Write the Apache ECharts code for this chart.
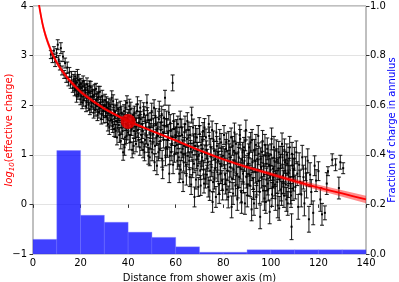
<!DOCTYPE html>
<html>
<head>
<meta charset="utf-8">
<script src="https://cdn.jsdelivr.net/npm/echarts@6/dist/echarts.min.js"></script>
<style>
html,body{margin:0;padding:0;background:#fff;}
#chart{width:399px;height:282px;}
</style>
</head>
<body>
<div id="chart"></div>
<script>
// Histogram: fraction of charge in annulus (right axis)
const binEdges = [0,10,20,30,40,50,60,70,80,90,100,110,120,130,140];
const binFractions = [0.059,0.417,0.156,0.128,0.088,0.067,0.029,0.007,0.007,0.017,0.017,0.017,0.017,0.017];

// Fitted lateral distribution curve (left axis) and its band half-width
const curveX = [1.5,2,2.5,3,4,5,6,7,8,10,12,15,20,25,30,35,40,45,50,60,70,80,90,100,110,120,130,140];
const curveY = [4.48,4.23,4.04,3.89,3.64,3.45,3.30,3.17,3.05,2.86,2.71,2.52,2.27,2.09,1.93,1.80,1.68,1.58,1.48,1.29,1.09,0.91,0.75,0.61,0.47,0.34,0.22,0.10];
const curveBand = [0.10,0.10,0.09,0.09,0.08,0.075,0.07,0.065,0.06,0.055,0.05,0.045,0.04,0.035,0.032,0.03,0.03,0.028,0.026,0.025,0.025,0.028,0.032,0.038,0.045,0.055,0.065,0.075];

// Highlighted point
const markX = [40];
const markY = [1.67];

// Measurements [distance, log10 charge, error]
const pointsA = [[7.5,3.02,0.08],[8.2,2.95,0.09],[8.8,3.10,0.08],[9.3,2.88,0.10],[9.9,3.05,0.09],[10.4,3.22,0.10],[10.8,2.92,0.08],[11.3,2.80,0.09],[11.7,3.15,0.11],[12.2,2.70,0.09],[12.6,2.98,0.10],[13.1,2.62,0.08],[13.5,2.85,0.10],[14.0,2.55,0.09],[14.4,2.76,0.11],[14.9,2.48,0.09],[15.3,2.66,0.10],[15.8,2.42,0.08],[16.2,2.58,0.10],[16.7,2.35,0.09]];
const pointsB = [[17.1,2.52,0.10],[17.5,2.30,0.11],[17.9,2.44,0.10],[18.3,2.18,0.12],[18.7,2.61,0.11],[19.1,2.27,0.10],[19.5,2.40,0.12],[19.9,2.12,0.11],[20.3,2.35,0.10],[20.7,2.05,0.12],[21.1,2.48,0.11],[21.5,2.20,0.10],[21.9,2.31,0.12],[22.3,1.98,0.11],[22.7,2.42,0.13],[23.1,2.15,0.10],[23.5,2.26,0.12],[23.9,1.92,0.11],[24.3,2.36,0.12],[24.7,2.08,0.10],[25.1,2.19,0.13],[25.5,1.85,0.11],[25.9,2.30,0.12],[26.3,2.02,0.10],[26.7,2.12,0.12],[27.1,1.80,0.11],[27.5,2.25,0.13],[27.9,1.95,0.11],[28.3,2.05,0.12],[28.7,1.72,0.10],[29.1,2.18,0.12],[29.5,1.90,0.11],[29.9,1.99,0.12]];
const pointsB2 = [[17.3,2.40,0.11],[17.7,2.58,0.10],[18.1,2.33,0.12],[18.5,2.46,0.11],[18.9,2.22,0.10],[19.3,2.50,0.12],[19.7,2.31,0.11],[20.1,2.44,0.10],[20.5,2.18,0.12],[20.9,2.38,0.11],[21.3,2.10,0.12],[21.7,2.40,0.10],[22.1,2.25,0.11],[22.5,2.06,0.12],[22.9,2.32,0.11],[23.3,2.01,0.12],[23.7,2.39,0.10],[24.1,2.17,0.11],[24.5,1.97,0.12],[24.9,2.28,0.11],[25.3,2.04,0.12],[25.7,2.21,0.10],[26.1,1.90,0.12],[26.5,2.33,0.11],[26.9,1.98,0.12],[27.3,2.16,0.11],[27.7,1.86,0.12],[28.1,2.27,0.11],[28.5,2.00,0.12],[28.9,1.83,0.12],[29.3,2.08,0.11],[29.7,1.76,0.12]];
const pointsC = [[30.3,2.10,0.12],[30.7,1.78,0.13],[31.1,1.95,0.12],[31.5,1.62,0.14],[31.9,2.02,0.12],[32.3,1.85,0.13],[32.7,1.70,0.12],[33.1,2.15,0.14],[33.5,1.58,0.13],[33.9,1.90,0.12],[34.3,1.75,0.14],[34.7,1.48,0.13],[35.1,2.00,0.12],[35.5,1.66,0.14],[35.9,1.82,0.13],[36.3,1.40,0.15],[36.7,1.95,0.13],[37.1,1.55,0.14],[37.5,1.72,0.12],[37.9,1.05,0.16],[38.3,1.88,0.13],[38.7,1.35,0.15],[39.1,1.62,0.13],[39.5,2.05,0.14],[39.9,1.45,0.15],[40.3,1.78,0.13],[40.7,1.25,0.15],[41.1,1.92,0.14],[41.5,1.52,0.13],[41.9,1.68,0.14],[42.3,1.18,0.16],[42.7,1.85,0.13],[43.1,1.42,0.15],[43.5,1.60,0.14],[43.9,2.02,0.15],[44.3,1.30,0.14],[44.7,1.75,0.13]];
const pointsC2 = [[30.5,1.88,0.13],[30.9,2.05,0.12],[31.3,1.72,0.14],[31.7,1.92,0.13],[32.1,1.55,0.14],[32.5,1.98,0.13],[32.9,1.80,0.12],[33.3,1.65,0.14],[33.7,2.08,0.13],[34.1,1.52,0.15],[34.5,1.86,0.13],[34.9,1.68,0.14],[35.3,1.35,0.15],[35.7,1.92,0.13],[36.1,1.60,0.14],[36.5,1.78,0.13],[36.9,1.28,0.16],[37.3,1.85,0.13],[37.7,1.48,0.15],[38.1,1.68,0.14],[38.5,1.15,0.16],[38.9,1.95,0.14],[39.3,1.38,0.15],[39.7,1.72,0.14],[40.1,1.55,0.15],[40.5,1.98,0.14],[40.9,1.40,0.15],[41.3,1.62,0.14],[41.7,1.10,0.16],[42.1,1.80,0.14],[42.5,1.48,0.15],[42.9,1.70,0.14],[43.3,1.22,0.16],[43.7,1.88,0.14],[44.1,1.50,0.15],[44.5,1.65,0.14],[44.9,1.15,0.16]];
const pointsD = [[45.1,1.95,0.14],[45.5,1.40,0.15],[45.9,1.62,0.14],[46.3,1.10,0.16],[46.7,1.82,0.15],[47.1,1.30,0.14],[47.5,1.55,0.15],[47.9,2.05,0.16],[48.3,1.20,0.15],[48.7,1.70,0.14],[49.1,0.95,0.17],[49.5,1.48,0.15],[49.9,1.88,0.16],[50.3,1.25,0.15],[50.7,1.60,0.14],[51.1,0.85,0.17],[51.5,1.78,0.15],[51.9,1.35,0.16],[52.3,1.52,0.14],[52.7,1.05,0.17],[53.1,1.92,0.16],[53.5,1.28,0.15],[53.9,1.65,0.14],[54.3,0.92,0.17],[54.7,1.45,0.15],[55.1,1.75,0.16],[55.5,2.15,0.15],[55.9,1.15,0.16],[56.3,1.58,0.15],[56.7,1.32,0.16],[57.1,1.85,0.15],[57.5,0.98,0.17],[57.9,1.48,0.15],[58.3,1.22,0.16],[58.7,2.45,0.16],[59.1,1.68,0.15],[59.5,1.02,0.17],[59.9,1.40,0.16]];
const pointsD2 = [[45.3,1.72,0.15],[45.7,1.25,0.16],[46.1,1.48,0.15],[46.5,1.90,0.15],[46.9,1.05,0.17],[47.3,1.65,0.15],[47.7,1.38,0.16],[48.1,1.80,0.15],[48.5,0.98,0.17],[48.9,1.55,0.15],[49.3,1.28,0.16],[49.7,1.70,0.15],[50.1,1.05,0.17],[50.5,1.42,0.16],[50.9,1.95,0.16],[51.3,1.18,0.16],[51.7,1.60,0.15],[52.1,0.78,0.18],[52.5,1.38,0.16],[52.9,1.72,0.16],[53.3,1.10,0.17],[53.7,1.50,0.15],[54.1,1.82,0.16],[54.5,0.70,0.18],[54.9,1.30,0.16],[55.3,1.58,0.15],[55.7,0.95,0.17],[56.1,1.72,0.16],[56.5,1.12,0.17],[56.9,1.45,0.16],[57.3,0.62,0.18],[57.7,1.65,0.16],[58.1,1.05,0.17],[58.5,1.35,0.16],[58.9,0.80,0.18],[59.3,1.52,0.16],[59.7,1.18,0.17]];
const pointsE = [[60.3,1.55,0.16],[60.7,0.88,0.17],[61.1,1.28,0.16],[61.5,0.62,0.18],[61.9,1.72,0.16],[62.3,1.05,0.17],[62.7,1.40,0.16],[63.1,0.45,0.19],[63.5,1.18,0.17],[63.9,1.62,0.16],[64.3,0.80,0.18],[64.7,1.32,0.17],[65.1,0.98,0.18],[65.5,1.50,0.16],[65.9,0.55,0.19],[66.3,1.12,0.17],[66.7,1.80,0.16],[67.1,0.72,0.18],[67.5,1.25,0.17],[67.9,0.15,0.20],[68.3,1.42,0.17],[68.7,0.90,0.18],[69.1,1.08,0.17],[69.5,0.35,0.19],[69.9,1.58,0.17],[70.3,0.68,0.18],[70.7,1.20,0.17],[71.1,0.95,0.18],[71.5,1.48,0.17],[71.9,0.42,0.19],[72.3,1.02,0.18],[72.7,1.35,0.17],[73.1,0.60,0.19],[73.5,0.85,0.18],[73.9,1.62,0.17],[74.3,0.28,0.20],[74.7,1.15,0.18],[75.1,0.75,0.19],[75.5,0.05,0.21],[75.9,1.30,0.18],[76.3,0.50,0.19],[76.7,0.92,0.18],[77.1,1.45,0.18],[77.5,0.65,0.19],[77.9,1.05,0.18],[78.3,0.22,0.20],[78.7,0.82,0.19],[79.1,1.25,0.18],[79.5,0.48,0.20],[79.9,0.98,0.19]];
const pointsE2 = [[60.5,1.20,0.17],[60.9,1.62,0.16],[61.3,0.95,0.18],[61.7,1.38,0.17],[62.1,0.70,0.19],[62.5,1.55,0.17],[62.9,1.12,0.18],[63.3,0.85,0.18],[63.7,1.45,0.17],[64.1,1.02,0.18],[64.5,0.58,0.19],[64.9,1.68,0.17],[65.3,1.22,0.18],[65.7,0.88,0.18],[66.1,1.40,0.17],[66.5,0.40,0.20],[66.9,1.05,0.18],[67.3,1.55,0.17],[67.7,0.82,0.18],[68.1,1.18,0.18],[68.5,0.50,0.19],[68.9,1.35,0.18],[69.3,0.78,0.19],[69.7,1.00,0.18],[70.1,1.42,0.17],[70.5,0.38,0.20],[70.9,0.88,0.18],[71.3,1.28,0.18],[71.7,0.70,0.19],[72.1,1.55,0.18],[72.5,0.52,0.19],[72.9,1.10,0.18],[73.3,0.92,0.19],[73.7,0.35,0.20],[74.1,1.38,0.18],[74.5,0.68,0.19],[74.9,0.98,0.18],[75.3,1.50,0.18],[75.7,0.45,0.20],[76.1,1.08,0.19],[76.5,0.72,0.19],[76.9,0.15,0.21],[77.3,1.18,0.19],[77.7,0.88,0.19],[78.1,0.40,0.20],[78.5,1.32,0.19],[78.9,0.62,0.20],[79.3,0.95,0.19],[79.7,0.30,0.21]];
const pointsF = [[80.3,1.40,0.19],[80.7,0.60,0.20],[81.1,1.12,0.19],[81.5,0.30,0.21],[81.9,0.88,0.20],[82.3,1.28,0.19],[82.7,0.45,0.21],[83.1,0.95,0.20],[83.5,-0.05,0.22],[83.9,1.18,0.19],[84.3,0.70,0.20],[84.7,1.45,0.19],[85.1,0.38,0.21],[85.5,0.82,0.20],[85.9,0.10,0.22],[86.3,1.05,0.20],[86.7,0.55,0.21],[87.1,1.32,0.19],[87.5,0.25,0.22],[87.9,0.90,0.20],[88.3,0.62,0.21],[88.7,1.15,0.20],[89.1,0.02,0.22],[89.5,1.50,0.20],[89.9,0.78,0.21],[90.3,0.40,0.22],[90.7,1.02,0.20],[91.1,0.58,0.21],[91.5,1.25,0.20],[91.9,-0.10,0.23],[92.3,0.85,0.21],[92.7,0.32,0.22],[93.1,1.10,0.21],[93.5,0.65,0.22],[93.9,0.15,0.23],[94.3,0.92,0.21],[94.7,1.38,0.21],[95.1,0.48,0.22],[95.5,-0.25,0.24],[95.9,0.75,0.22],[96.3,1.05,0.21],[96.7,0.28,0.23],[97.1,0.60,0.22],[97.5,1.20,0.21],[97.9,0.05,0.23],[98.3,0.82,0.22],[98.7,0.42,0.23],[99.1,0.98,0.22],[99.5,-0.15,0.24],[99.9,0.70,0.22],[100.3,1.32,0.22],[100.7,0.35,0.23],[101.1,0.55,0.22],[101.5,0.88,0.22],[101.9,0.12,0.24],[102.3,1.08,0.22],[102.7,0.45,0.23],[103.1,0.72,0.22],[103.5,-0.08,0.24],[103.9,0.95,0.22],[104.3,0.30,0.23],[104.7,1.22,0.22],[105.1,0.58,0.23],[105.5,0.18,0.24],[105.9,0.85,0.22],[106.3,0.40,0.23],[106.7,1.00,0.22],[107.1,0.02,0.24],[107.5,0.65,0.23],[107.9,1.15,0.22],[108.3,0.25,0.24],[108.7,-0.45,0.26],[109.1,0.78,0.23],[109.5,0.50,0.23],[109.9,0.92,0.23]];
const pointsF2 = [[80.5,0.92,0.20],[80.9,0.42,0.21],[81.3,1.25,0.19],[81.7,0.68,0.20],[82.1,0.15,0.22],[82.5,1.02,0.20],[82.9,0.75,0.20],[83.3,1.35,0.19],[83.7,0.52,0.21],[84.1,0.22,0.22],[84.5,1.08,0.20],[84.9,0.85,0.20],[85.3,1.22,0.20],[85.7,0.60,0.21],[86.1,0.35,0.22],[86.5,0.95,0.20],[86.9,1.40,0.20],[87.3,0.72,0.21],[87.7,0.05,0.23],[88.1,1.05,0.20],[88.5,0.45,0.22],[88.9,0.88,0.21],[89.3,1.28,0.20],[89.7,0.55,0.22],[90.1,0.18,0.23],[90.5,0.82,0.21],[90.9,1.15,0.21],[91.3,0.38,0.22],[91.7,0.70,0.22],[92.1,1.30,0.21],[92.5,0.52,0.22],[92.9,0.02,0.24],[93.3,0.88,0.22],[93.7,1.20,0.21],[94.1,0.42,0.23],[94.5,0.68,0.22],[94.9,1.02,0.22],[95.3,0.25,0.23],[95.7,0.92,0.22],[96.1,0.55,0.22],[96.5,1.28,0.21],[96.9,0.78,0.22],[97.3,0.12,0.24],[97.7,0.98,0.22],[98.1,0.50,0.23],[98.5,1.12,0.22],[98.9,0.30,0.23],[99.3,0.80,0.22],[99.7,0.55,0.23],[100.1,1.00,0.22],[100.5,0.20,0.24],[100.9,0.72,0.23],[101.3,1.15,0.22],[101.7,0.40,0.23],[102.1,0.62,0.23],[102.5,0.90,0.22],[102.9,-0.02,0.25],[103.3,1.05,0.22],[103.7,0.50,0.23],[104.1,0.78,0.23],[104.5,0.22,0.24],[104.9,0.95,0.22],[105.3,0.45,0.23],[105.7,1.10,0.22],[106.1,0.68,0.23],[106.5,0.10,0.24],[106.9,0.82,0.23],[107.3,0.38,0.24],[107.7,0.92,0.23],[108.1,0.55,0.23],[108.5,0.18,0.24],[108.9,1.02,0.23],[109.3,0.32,0.24],[109.7,0.70,0.23]];
const pointsG = [[110.3,0.35,0.24],[110.7,1.05,0.23],[111.1,0.62,0.24],[111.5,-0.05,0.25],[111.9,0.80,0.24],[112.3,0.45,0.24],[112.8,0.20,0.25],[113.2,0.95,0.24],[113.7,0.55,0.24],[114.1,0.02,0.25],[114.6,0.72,0.24],[115.0,0.38,0.25],[115.5,0.88,0.24],[116.0,-0.30,0.26],[116.5,0.60,0.24],[117.0,0.25,0.25],[117.8,-0.17,0.24],[118.4,0.78,0.20],[119.0,0.48,0.22],[120.0,0.67,0.19],[120.8,0.10,0.24],[121.5,-0.20,0.22],[122.7,-0.17,0.14],[123.5,0.42,0.22],[124.0,0.67,0.09],[125.8,0.90,0.12],[127.2,0.80,0.12],[128.6,0.33,0.22],[129.2,0.85,0.14],[130.4,0.73,0.11]];

const points = [].concat(pointsA, pointsB, pointsB2, pointsC, pointsC2, pointsD, pointsD2, pointsE, pointsE2, pointsF, pointsF2, pointsG);

const xTicks = [0,20,40,60,80,100,120,140];

const chart = echarts.init(document.getElementById('chart'), null, {renderer:'canvas'});
const FONT = 'DejaVu Sans';

const histData = binFractions.map((f,i)=>[binEdges[i], binEdges[i+1], f]);
const bandData = curveX.map((x,i)=>[x, curveY[i]-curveBand[i], curveY[i]+curveBand[i]]);

const option = {
  animation:false,
  textStyle:{fontFamily:FONT},
  grid:{left:33,right:33,top:6,bottom:28,show:true,borderColor:'#808080',borderWidth:1,containLabel:false,outerBoundsMode:'none'},
  xAxis:{
    type:'value',min:0,max:140,interval:20,
    name:'Distance from shower axis (m)',nameLocation:'middle',nameGap:19,nameMoveOverlap:false,
    nameTextStyle:{fontFamily:FONT,fontSize:10,color:'#000'},
    axisLine:{show:false},
    axisTick:{show:true,length:3.5,inside:false,lineStyle:{color:'#333'}},
    axisLabel:{fontFamily:FONT,fontSize:10,color:'#000',margin:4},
    splitLine:{show:false}
  },
  yAxis:[{
    type:'value',min:-1,max:4,interval:1,position:'left',
    name:'{it|log}{sub|10}{n|(effective charge)}',nameLocation:'middle',nameGap:17,nameRotate:90,nameMoveOverlap:false,
    nameTextStyle:{fontFamily:FONT,fontSize:10,color:'red',
      rich:{
        it:{fontFamily:FONT,fontSize:10,color:'red',fontStyle:'italic',lineHeight:14,verticalAlign:'middle'},
        sub:{fontFamily:FONT,fontSize:7,color:'red',fontStyle:'italic',lineHeight:14,verticalAlign:'bottom'},
        n:{fontFamily:FONT,fontSize:10,color:'red',lineHeight:14,verticalAlign:'middle'}
      }},
    axisLine:{show:false},
    axisTick:{show:true,length:3.5,lineStyle:{color:'#333'}},
    axisLabel:{fontFamily:FONT,fontSize:10,color:'#000',margin:6,formatter:v=>String(v).replace('-','\u2212')},
    splitLine:{show:true,lineStyle:{color:'#dcdcdc',width:0.8}}
  },{
    type:'value',min:0,max:1,interval:0.2,position:'right',
    name:'Fraction of charge in annulus',nameLocation:'middle',nameGap:21,nameRotate:90,nameMoveOverlap:false,
    nameTextStyle:{fontFamily:FONT,fontSize:10,color:'blue'},
    axisLine:{show:false},
    axisTick:{show:true,length:3.5,lineStyle:{color:'#333'}},
    axisLabel:{fontFamily:FONT,fontSize:10,color:'#000',margin:4,formatter:v=>v.toFixed(1)},
    splitLine:{show:false}
  }],
  series:[
    {
      type:'custom',yAxisIndex:1,z:1,
      data:histData,
      encode:{x:[0,1],y:2},
      renderItem:(params,api)=>{
        const a = api.coord([api.value(0),0]);
        const b = api.coord([api.value(1),api.value(2)]);
        return {type:'rect',shape:{x:a[0],y:b[1],width:b[0]-a[0],height:a[1]-b[1]},
          style:{fill:'rgba(0,0,255,0.75)',stroke:'rgba(120,120,255,0.6)',lineWidth:0.6}};
      }
    },
    {
      type:'custom',yAxisIndex:0,z:2,clip:true,
      data:points,
      encode:{x:0,y:1},
      renderItem:(params,api)=>{
        const x=api.value(0), y=api.value(1), e=api.value(2);
        const p=api.coord([x,y]), t=api.coord([x,y+e]), b=api.coord([x,y-e]);
        const st={stroke:'rgba(0,0,0,0.85)',lineWidth:1.1};
        return {type:'group',children:[
          {type:'line',shape:{x1:p[0],y1:t[1],x2:p[0],y2:b[1]},style:st},
          {type:'line',shape:{x1:p[0]-2,y1:t[1],x2:p[0]+2,y2:t[1]},style:st},
          {type:'line',shape:{x1:p[0]-2,y1:b[1],x2:p[0]+2,y2:b[1]},style:st},
          {type:'rect',shape:{x:p[0]-1,y:p[1]-1,width:2,height:2},style:{fill:'#000'}}
        ]};
      }
    },
    {
      type:'custom',yAxisIndex:0,z:3,clip:true,
      data:[0],
      renderItem:(params,api)=>{
        const up = bandData.map(d=>api.coord([d[0],d[2]]));
        const lo = bandData.map(d=>api.coord([d[0],d[1]])).reverse();
        return {type:'polygon',shape:{points:up.concat(lo)},style:{fill:'rgba(255,0,0,0.45)'}};
      }
    },
    {
      type:'line',yAxisIndex:0,z:4,smooth:0.2,showSymbol:false,clip:true,
      data:curveX.map((x,i)=>[x,curveY[i]]),
      lineStyle:{color:'red',width:1.8}
    },
    {
      type:'scatter',yAxisIndex:0,z:5,symbol:'circle',symbolSize:15,
      data:markX.map((x,i)=>[x,markY[i]]),
      itemStyle:{color:'#e00000',opacity:0.9}
    }
  ]
};
chart.setOption(option);
</script>
</body>
</html>
